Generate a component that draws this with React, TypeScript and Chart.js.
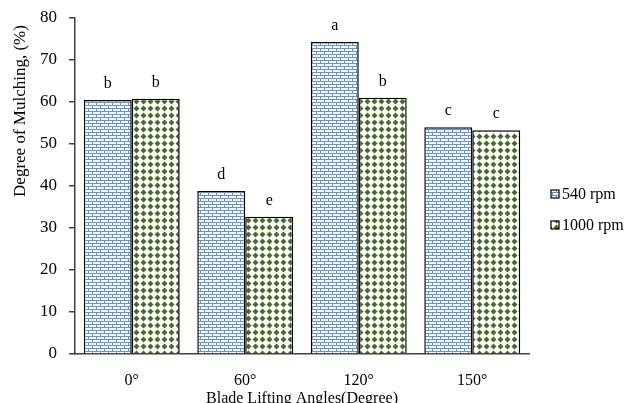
import React, { useEffect, useRef } from "react";
import { Chart, registerables } from "chart.js";

Chart.register(...registerables);

const categories = ["0°", "60°", "120°", "150°"];
const rpm540 = [60.5, 38.8, 74.3, 54.0];
const rpm1000 = [60.8, 32.7, 61.0, 53.3];
const letters540 = ["b", "d", "a", "c"];
const letters1000 = ["b", "e", "b", "c"];
const seriesNames = ["540 rpm", "1000 rpm"];
const yTitle = "Degree of Mulching, (%)";
const xTitle = "Blade Lifting Angles(Degree)";

const FONT = "'Liberation Serif', 'Times New Roman', serif";

function brickPattern(): CanvasPattern | string {
  const c = document.createElement("canvas");
  c.width = 8;
  c.height = 6;
  const g = c.getContext("2d");
  if (!g) return "#c8d6ea";
  g.fillStyle = "#f4f7fc";
  g.fillRect(0, 0, 8, 6);
  g.fillStyle = "#6f93c2";
  g.fillRect(0, 0, 8, 1);
  g.fillRect(0, 3, 8, 1);
  g.fillRect(0, 0, 1, 3);
  g.fillRect(4, 3, 1, 3);
  return g.createPattern(c, "repeat") || "#c8d6ea";
}

function diamondPattern(): CanvasPattern | string {
  const c = document.createElement("canvas");
  c.width = 7;
  c.height = 7;
  const g = c.getContext("2d");
  if (!g) return "#4c6b2e";
  g.fillStyle = "#ffffff";
  g.fillRect(0, 0, 7, 7);
  g.fillStyle = "#4a6a2c";
  g.beginPath();
  g.moveTo(3.5, 0.5);
  g.lineTo(6.5, 3.5);
  g.lineTo(3.5, 6.5);
  g.lineTo(0.5, 3.5);
  g.closePath();
  g.fill();
  return g.createPattern(c, "repeat") || "#4c6b2e";
}

export default function App() {
  const ref = useRef<HTMLCanvasElement | null>(null);

  useEffect(() => {
    document.body.style.margin = "0";
    document.body.style.overflow = "hidden";
    const canvas = ref.current;
    if (!canvas) return;
    const p540 = brickPattern();
    const p1000 = diamondPattern();
    const fills = [p540, p1000];
    const letters = [letters540, letters1000];

    const lettersPlugin = {
      id: "letters",
      afterDatasetsDraw(chart: any) {
        const ctx = chart.ctx;
        ctx.save();
        ctx.font = `16px ${FONT}`;
        ctx.fillStyle = "#000";
        ctx.textAlign = "center";
        ctx.textBaseline = "alphabetic";
        chart.data.datasets.forEach((_: any, di: number) => {
          const meta = chart.getDatasetMeta(di);
          meta.data.forEach((bar: any, i: number) => {
            ctx.fillText(letters[di][i], bar.x, bar.y - 12);
          });
        });
        ctx.restore();
      },
    };

    const overlayPlugin = {
      id: "overlay",
      afterDraw(chart: any) {
        const ctx = chart.ctx;
        ctx.save();
        ctx.translate(21, 111);
        ctx.rotate(-Math.PI / 2);
        ctx.font = `17px ${FONT}`;
        ctx.fillStyle = "#000";
        ctx.textAlign = "center";
        ctx.textBaseline = "middle";
        ctx.fillText(yTitle, 0, 0);
        ctx.restore();

        ctx.save();
        const x0 = 551;
        const ys = [194, 225];
        seriesNames.forEach((name, i) => {
          const y = ys[i];
          ctx.fillStyle = fills[i] as any;
          ctx.fillRect(x0, y - 4, 8, 8);
          ctx.strokeStyle = "#000";
          ctx.lineWidth = 1.2;
          ctx.strokeRect(x0, y - 4, 8, 8);
          ctx.fillStyle = "#000";
          ctx.font = `16px ${FONT}`;
          ctx.textAlign = "left";
          ctx.textBaseline = "middle";
          ctx.fillText(name, x0 + 11, y + 1);
        });
        ctx.restore();
      },
    };

    const chart = new Chart(canvas, {
      type: "bar",
      data: {
        labels: categories,
        datasets: [
          {
            label: seriesNames[0],
            data: rpm540,
            backgroundColor: p540 as any,
            borderColor: "#000",
            borderWidth: 1.5,
            categoryPercentage: 0.845,
            barPercentage: 1.0,
          },
          {
            label: seriesNames[1],
            data: rpm1000,
            backgroundColor: p1000 as any,
            borderColor: "#000",
            borderWidth: 1.5,
            categoryPercentage: 0.845,
            barPercentage: 1.0,
          },
        ],
      },
      options: {
        animation: false,
        responsive: false,
        maintainAspectRatio: false,
        layout: { padding: { top: 0, right: 96, left: 28, bottom: 0 } },
        plugins: {
          legend: { display: false },
          tooltip: { enabled: false },
        },
        scales: {
          x: {
            grid: { display: false },
            border: { display: true, color: "#404040", width: 1.5 },
            ticks: {
              color: "#000",
              font: { family: FONT, size: 16 },
              padding: 9.5,
            },
            title: {
              display: true,
              text: xTitle,
              color: "#000",
              font: { family: FONT, size: 16 },
              padding: { top: -11.4, bottom: 0 },
            },
          },
          y: {
            min: 0,
            max: 80,
            afterFit: (scale: any) => {
              scale.paddingTop = 18;
            },
            grid: {
              drawOnChartArea: false,
              drawTicks: true,
              tickLength: 6,
              color: "#404040",
              lineWidth: 1.5,
            },
            border: { display: true, color: "#404040", width: 1.5 },
            ticks: {
              stepSize: 10,
              color: "#000",
              font: { family: FONT, size: 17 },
              padding: 12,
            },
          },
        },
      },
      plugins: [lettersPlugin, overlayPlugin],
    });

    return () => chart.destroy();
  }, []);

  return (
    <div style={{ width: 625, height: 408 }}>
      <canvas ref={ref} width={625} height={408} style={{ display: "block" }} />
    </div>
  );
}
